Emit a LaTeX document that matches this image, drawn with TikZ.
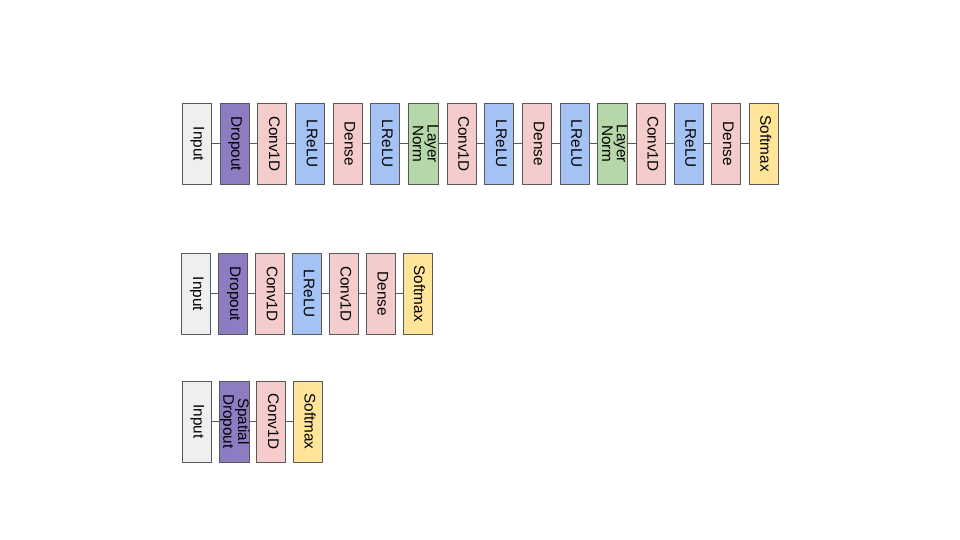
\documentclass[tikz,border=0pt]{standalone}
\usepackage{fontspec}
\usepackage{graphicx}
\setmainfont{Liberation Sans}
\usetikzlibrary{positioning}

\definecolor{edgegray}{HTML}{595959}
\definecolor{inputgray}{HTML}{EFEFEF}
\definecolor{droppurple}{HTML}{8E7CC3}
\definecolor{convpink}{HTML}{F4CCCC}
\definecolor{relublue}{HTML}{A4C2F4}
\definecolor{normgreen}{HTML}{B6D7A8}
\definecolor{softyellow}{HTML}{FFE599}

% text of a layer, read from top to bottom
\newcommand{\vlabel}[1]{\rotatebox{-90}{\begin{tabular}{@{}c@{}}#1\end{tabular}}}

\tikzset{
  layer/.style={draw=edgegray, line width=0.8pt, minimum width=29pt, minimum height=81pt,
    inner sep=0pt, outer sep=0pt, font=\fontsize{15.3}{14.5}\selectfont},
  inputbox/.style={layer, fill=inputgray},
  dropbox/.style={layer, fill=droppurple},
  convbox/.style={layer, fill=convpink},
  densebox/.style={layer, fill=convpink},
  relubox/.style={layer, fill=relublue},
  normbox/.style={layer, fill=normgreen},
  softbox/.style={layer, fill=softyellow},
  link/.style={draw=edgegray, line width=0.8pt}
}

\begin{document}
\begin{tikzpicture}[x=1pt, y=-1pt]
  \useasboundingbox (0,0) rectangle (960,540);

  % first model
  \begin{scope}[node distance=8.7pt]
    \node[inputbox, anchor=north west] (in1) at (182.3,103.3) {\vlabel{Input}};
    \node[dropbox, right=of in1] (do1) {\vlabel{Dropout}};
    \node[convbox, right=of do1] (cv1a) {\vlabel{Conv1D}};
    \node[relubox, right=of cv1a] (lr1a) {\vlabel{LReLU}};
    \node[densebox, right=of lr1a] (de1a) {\vlabel{Dense}};
    \node[relubox, right=of de1a] (lr1b) {\vlabel{LReLU}};
    \node[normbox, right=of lr1b] (ln1a) {\vlabel{Layer\\Norm}};
    \node[convbox, right=of ln1a] (cv1b) {\vlabel{Conv1D}};
    \node[relubox, right=of cv1b] (lr1c) {\vlabel{LReLU}};
    \node[densebox, right=of lr1c] (de1b) {\vlabel{Dense}};
    \node[relubox, right=of de1b] (lr1d) {\vlabel{LReLU}};
    \node[normbox, right=of lr1d] (ln1b) {\vlabel{Layer\\Norm}};
    \node[convbox, right=of ln1b] (cv1c) {\vlabel{Conv1D}};
    \node[relubox, right=of cv1c] (lr1e) {\vlabel{LReLU}};
    \node[densebox, right=of lr1e] (de1c) {\vlabel{Dense}};
    \node[softbox, right=of de1c] (sm1) {\vlabel{Softmax}};
  \end{scope}
  \draw[link] (in1) -- (do1) -- (cv1a) -- (lr1a) -- (de1a) -- (lr1b) -- (ln1a) -- (cv1b)
    -- (lr1c) -- (de1b) -- (lr1d) -- (ln1b) -- (cv1c) -- (lr1e) -- (de1c) -- (sm1);

  % second model
  \begin{scope}[node distance=7.9pt]
    \node[inputbox, anchor=north west] (in2) at (181.7,253.3) {\vlabel{Input}};
    \node[dropbox, right=of in2] (do2) {\vlabel{Dropout}};
    \node[convbox, right=of do2] (cv2a) {\vlabel{Conv1D}};
    \node[relubox, right=of cv2a] (lr2) {\vlabel{LReLU}};
    \node[convbox, right=of lr2] (cv2b) {\vlabel{Conv1D}};
    \node[densebox, right=of cv2b] (de2) {\vlabel{Dense}};
    \node[softbox, right=of de2] (sm2) {\vlabel{Softmax}};
  \end{scope}
  \draw[link] (in2) -- (do2) -- (cv2a) -- (lr2) -- (cv2b) -- (de2) -- (sm2);

  % third model
  \begin{scope}[node distance=7.6pt]
    \node[inputbox, anchor=north west] (in3) at (182.3,381) {\vlabel{Input}};
    \node[dropbox, right=of in3] (do3) {\vlabel{Spatial\\Dropout}};
    \node[convbox, right=of do3] (cv3) {\vlabel{Conv1D}};
    \node[softbox, right=of cv3] (sm3) {\vlabel{Softmax}};
  \end{scope}
  \draw[link] (in3) -- (do3) -- (cv3) -- (sm3);
\end{tikzpicture}
\end{document}
